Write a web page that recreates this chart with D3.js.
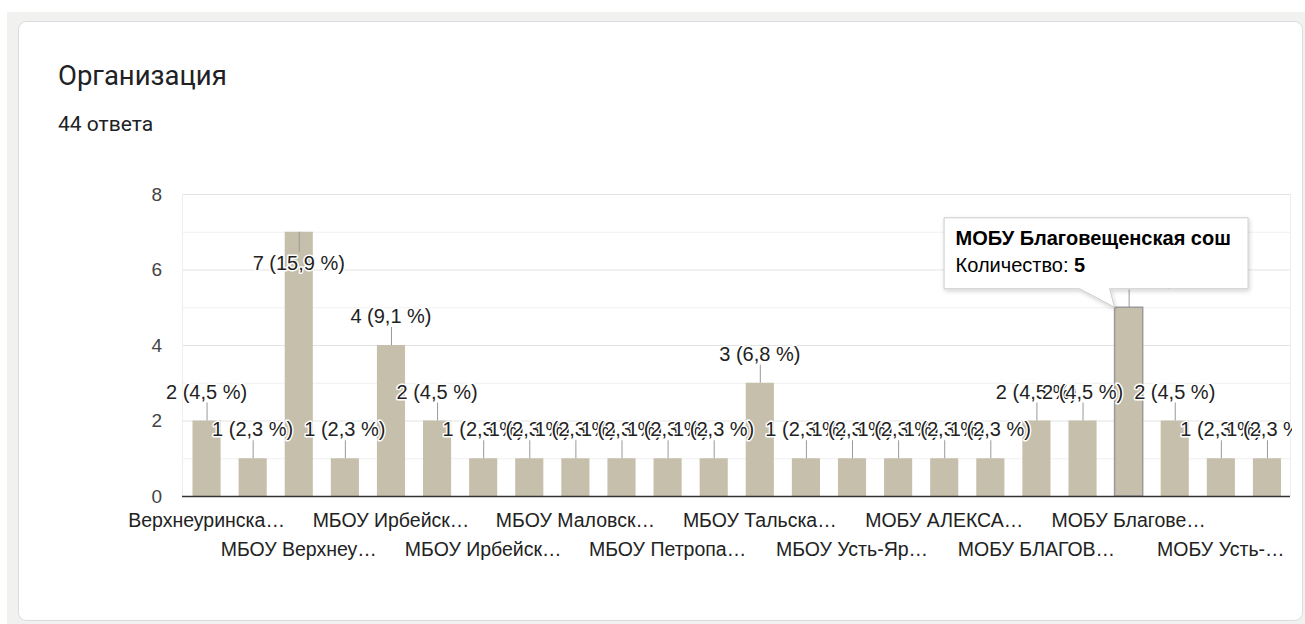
<!DOCTYPE html>
<html>
<head>
<meta charset="utf-8">
<script src="https://cdn.jsdelivr.net/npm/d3@7"></script>
<style>
  body { margin: 0; background: #fff; }
  svg { display: block; }
</style>
</head>
<body>
<div id="chart"></div>
<script>
// data
const categories = [
  "Верхнеуринская сош", "МБОУ Арефьевская сош", "МБОУ Верхнеуринская сош", "МБОУ Елисеевская сош",
  "МБОУ Ирбейская сош №1", "МБОУ Ирбейская сош №2", "МБОУ Ирбейская сош №3", "МБОУ Ключевская сош",
  "МБОУ Маловская сош", "МБОУ Николаевская сош", "МБОУ Петропавловская сош", "МБОУ Степановская сош",
  "МБОУ Тальская сош", "МБОУ Тумаковская сош", "МБОУ Усть-Ярульская сош", "МОБУ Агинская сош",
  "МОБУ АЛЕКСАНДРОВСКАЯ сош", "МОБУ Аргинская сош", "МОБУ БЛАГОВЕЩЕНСКАЯ СОШ", "МОБУ Благовещенская СОШ",
  "МОБУ Благовещенская сош", "МОБУ Изумрудновская сош", "МОБУ Усть-Ярульская сош", "МОБУ Хомутовская сош"
];
const counts = [2, 1, 7, 1, 4, 2, 1, 1, 1, 1, 1, 1, 3, 1, 1, 1, 1, 1, 2, 2, 5, 2, 1, 1];
const tickLabels = [
  "Верхнеуринска…", "", "МБОУ Верхнеу…", "", "МБОУ Ирбейск…", "", "МБОУ Ирбейск…", "",
  "МБОУ Маловск…", "", "МБОУ Петропа…", "", "МБОУ Тальска…", "", "МБОУ Усть-Яр…", "",
  "МОБУ АЛЕКСА…", "", "МОБУ БЛАГОВ…", "", "МОБУ Благове…", "", "МОБУ Усть-…", ""
];
const yTicks = [0, 2, 4, 6, 8];
const title = "Организация";
const subtitle = "44 ответа";
const hoveredIndex = 20;
const total = d3.sum(counts);

const W = 1305, H = 624;
const margin = {top: 194, left: 182};
const width = 1108, height = 302;

const svg = d3.select("#chart").append("svg")
    .attr("width", W)
    .attr("height", H);

// page background + card
svg.append("rect")
    .attr("x", 7).attr("y", 12)
    .attr("width", W).attr("height", H)
    .attr("fill", "#f1f1ef");

svg.append("rect")
    .attr("x", 18.5).attr("y", 21.5)
    .attr("width", 1284).attr("height", 599)
    .attr("rx", 8)
    .attr("fill", "#fff")
    .attr("stroke", "#dadce0");

svg.append("text")
    .attr("x", 58).attr("y", 85)
    .style("font", "400 27.5px Roboto, 'Noto Sans', sans-serif")
    .attr("fill", "#202124")
    .text(title);

svg.append("text")
    .attr("x", 58).attr("y", 131)
    .style("font", "400 21px Roboto, 'Noto Sans', sans-serif")
    .attr("fill", "#202124")
    .text(subtitle);

const defs = svg.append("defs");
defs.append("clipPath").attr("id", "plotclip")
  .append("rect")
    .attr("x", -margin.left).attr("y", -margin.top)
    .attr("width", margin.left + 1108 + 2).attr("height", H);

const g = svg.append("g")
    .attr("transform", `translate(${margin.left},${margin.top})`)
    .style("font-family", "Arial, 'Liberation Sans', sans-serif");

const xScale = d3.scaleBand()
    .domain(categories)
    .range([1.5, width])
    .paddingInner(0.39)
    .paddingOuter(0.195);

const yScale = d3.scaleLinear()
    .domain([0, 8])
    .range([height, 0]);

// gridlines, light ones on odd values
g.selectAll(".grid")
  .data(d3.range(1, 9))
  .enter().append("line")
    .attr("class", "grid")
    .attr("x1", 0).attr("x2", width)
    .attr("y1", d => yScale(d) + 0.5).attr("y2", d => yScale(d) + 0.5)
    .attr("stroke", d => d % 2 === 0 ? "#e3e3e3" : "#f0f0f0");

g.selectAll(".vframe")
  .data([0, width])
  .enter().append("line")
    .attr("class", "vframe")
    .attr("x1", d => d + 0.5).attr("x2", d => d + 0.5)
    .attr("y1", 0).attr("y2", height)
    .attr("stroke", "#eeeeee");

const yAxis = d3.axisLeft(yScale)
    .tickValues(yTicks)
    .tickSize(0)
    .tickPadding(20);

g.append("g")
    .attr("class", "axis y-axis")
    .call(yAxis)
    .call(s => s.select(".domain").remove())
    .selectAll("text")
    .style("font-size", "19px")
    .style("font-family", "Arial, 'Liberation Sans', sans-serif")
    .attr("fill", "#444");

// bars
g.selectAll(".bar")
  .data(counts)
  .enter().append("rect")
    .attr("class", "bar")
    .attr("x", (d, i) => xScale(categories[i]))
    .attr("y", d => yScale(d))
    .attr("width", xScale.bandwidth())
    .attr("height", d => height - yScale(d))
    .attr("fill", "#c6bfab")
    .attr("stroke", (d, i) => i === hoveredIndex ? "#9a9a9a" : "none")
    .attr("stroke-width", 1.5);

// baseline
g.append("line")
    .attr("x1", 0).attr("x2", width)
    .attr("y1", height + 0.5).attr("y2", height + 0.5)
    .attr("stroke", "#333")
    .attr("stroke-width", 1.5);

// x labels staggered on two rows, every other one hidden
const xAxis = d3.axisBottom(xScale)
    .tickSize(0)
    .tickFormat((d, i) => tickLabels[i]);

g.append("g")
    .attr("class", "axis x-axis")
    .attr("transform", `translate(0,${height})`)
    .call(xAxis)
    .call(s => s.select(".domain").remove())
    .selectAll("text")
    .attr("y", (d, i) => i % 4 === 0 ? 31 : 60)
    .attr("dy", 0)
    .style("font-size", "19.5px")
    .style("font-family", "Arial, 'Liberation Sans', sans-serif")
    .attr("fill", "#222");

// annotations: stem + "n (p %)", clipped at the chart's right edge like the original
const pct = v => (v / total * 100).toFixed(1).replace(".", ",") + " %";
const inside = v => yScale(v) - 40 < 0;
const cx = i => xScale(categories[i]) + xScale.bandwidth() / 2;

const ann = g.append("g").attr("clip-path", "url(#plotclip)");

ann.selectAll(".stem")
  .data(counts)
  .enter().append("line")
    .attr("class", "stem")
    .attr("x1", (d, i) => cx(i) + 0.5).attr("x2", (d, i) => cx(i) + 0.5)
    .attr("y1", d => yScale(d))
    .attr("y2", d => inside(d) ? yScale(d) + 20 : yScale(d) - 18)
    .attr("stroke", "#999");

ann.selectAll(".ann")
  .data(counts)
  .enter().append("text")
    .attr("class", "ann")
    .attr("x", (d, i) => cx(i))
    .attr("y", d => inside(d) ? yScale(d) + 38 : yScale(d) - 22)
    .attr("text-anchor", "middle")
    .style("font-size", "20px")
    .attr("fill", "#222")
    .attr("stroke", "#fff")
    .attr("stroke-width", 3)
    .attr("stroke-linejoin", "round")
    .style("paint-order", "stroke")
    .text(d => `${d} (${pct(d)})`);

// hover tooltip on the highlighted bar
const tipX = xScale(categories[hoveredIndex]);
const tipY = yScale(counts[hoveredIndex]);
const box = {x: tipX - 171, y: tipY - 90, w: 304, h: 71};

const f = defs.append("filter").attr("id", "shadow")
    .attr("x", "-10%").attr("y", "-10%").attr("width", "120%").attr("height", "130%");
f.append("feDropShadow").attr("dx", 1).attr("dy", 2).attr("stdDeviation", 2)
    .attr("flood-color", "#000").attr("flood-opacity", 0.18);

const tip = g.append("g").attr("class", "tooltip");

tip.append("path")
    .attr("d", `M${box.x + 0.5},${box.y + 0.5} h${box.w} v${box.h} H${tipX - 5} L${tipX},${tipY} L${tipX - 35},${box.y + box.h + 0.5} H${box.x + 0.5} Z`)
    .attr("fill", "#fff")
    .attr("stroke", "#cccccc")
    .attr("filter", "url(#shadow)");

tip.append("text")
    .attr("x", box.x + 12).attr("y", box.y + 28)
    .style("font-size", "20px")
    .style("font-weight", "bold")
    .attr("fill", "#000")
    .text(categories[hoveredIndex]);

const t2 = tip.append("text")
    .attr("x", box.x + 12).attr("y", box.y + 55)
    .style("font-size", "20px")
    .attr("fill", "#000");
t2.append("tspan").text("Количество: ");
t2.append("tspan").style("font-weight", "bold").text(counts[hoveredIndex]);
</script>
</body>
</html>
